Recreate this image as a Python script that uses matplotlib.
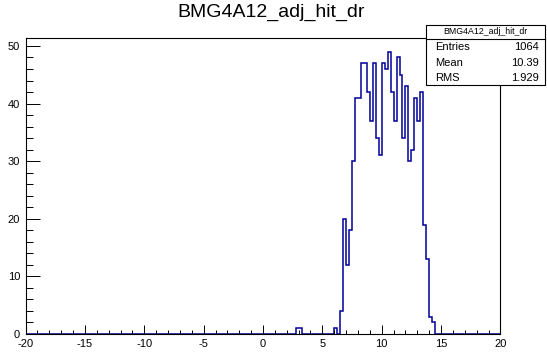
import matplotlib
matplotlib.use("Agg")
import matplotlib.pyplot as plt
from matplotlib.patches import Rectangle
from matplotlib.lines import Line2D
from matplotlib.ticker import MultipleLocator
import numpy as np

# histogram: 160 bins from -20 to 20 (bin width 0.25)
x_min, x_max, n_bins = -20.0, 20.0, 160

# lower edges of the non-empty bins and their counts
bin_low = [2.75, 3.0, 6.0,
           6.5, 6.75, 7.0, 7.25, 7.5, 7.75, 8.0, 8.25, 8.5, 8.75,
           9.0, 9.25, 9.5, 9.75, 10.0, 10.25, 10.5, 10.75, 11.0, 11.25,
           11.5, 11.75, 12.0, 12.25, 12.5, 12.75, 13.0, 13.25, 13.5, 13.75,
           14.0, 14.25]
bin_count = [1, 1, 1,
             4, 20, 12, 18, 30, 41, 41, 47, 47, 42,
             37, 47, 34, 31, 47, 46, 49, 42, 37, 48,
             45, 34, 43, 30, 32, 41, 37, 42, 19, 13,
             3, 2]

title = "BMG4A12_adj_hit_dr"
stat_names = ["Entries", "Mean", "RMS"]
stat_values = ["1064", "10.39", "1.929"]

edges = np.linspace(x_min, x_max, n_bins + 1)
counts = np.zeros(n_bins)
for lo, c in zip(bin_low, bin_count):
    counts[int(round((lo - x_min) / 0.25))] = c

plt.rcParams['font.family'] = ['Liberation Sans', 'DejaVu Sans']
plt.rcParams['axes.unicode_minus'] = False

W, H = 547, 354
fig = plt.figure(figsize=(W / 100, H / 100), dpi=100)
fig.patch.set_facecolor('white')

# frame in pixels
fl, fr, ft, fb = 25.6, 500.4, 37.6, 334.0
ax = fig.add_axes([fl / W, 1 - fb / H, (fr - fl) / W, (fb - ft) / H])

ax.stairs(counts, edges, color='#000099', linewidth=1.1, baseline=0)

ax.set_xlim(x_min, x_max)
ax.set_ylim(0, max(bin_count) * 1.05)

ax.xaxis.set_major_locator(MultipleLocator(5))
ax.xaxis.set_minor_locator(MultipleLocator(1))
ax.yaxis.set_major_locator(MultipleLocator(10))
ax.yaxis.set_minor_locator(MultipleLocator(2))

ax.tick_params(axis='x', which='major', direction='in', length=6.4, width=0.7,
               labelsize=8, pad=3.5, top=False)
ax.tick_params(axis='x', which='minor', direction='in', length=3.2, width=0.7, top=False)
ax.tick_params(axis='y', which='major', direction='in', length=10, width=0.7,
               labelsize=8, pad=4, right=False)
ax.tick_params(axis='y', which='minor', direction='in', length=5, width=0.7, right=False)

for s in ax.spines.values():
    s.set_linewidth(0.8)

# title
fig.text(271 / W, 1 - 12 / H, title, ha='center', va='center', fontsize=14)

# stats box
bl, br, bt, bb = 426.0, 545.0, 24.7, 85.0
fig.add_artist(Rectangle((bl / W, 1 - bb / H), (br - bl) / W, (bb - bt) / H,
                         transform=fig.transFigure, facecolor='white',
                         edgecolor='black', linewidth=0.8, zorder=5))
sep = 38.6
fig.add_artist(Line2D([bl / W, br / W], [1 - sep / H, 1 - sep / H],
                      transform=fig.transFigure, color='black', linewidth=0.8, zorder=6))
fig.text((bl + br) / 2 / W, 1 - 32 / H, title, ha='center', va='center',
         fontsize=6.3, zorder=7)
row_y = [47.5, 62.8, 78.0]
for name, val, y in zip(stat_names, stat_values, row_y):
    fig.text(435 / W, 1 - y / H, name, ha='left', va='center', fontsize=8, zorder=7)
    fig.text(539 / W, 1 - y / H, val, ha='right', va='center', fontsize=8, zorder=7)

fig.savefig("out.png", dpi=100)
